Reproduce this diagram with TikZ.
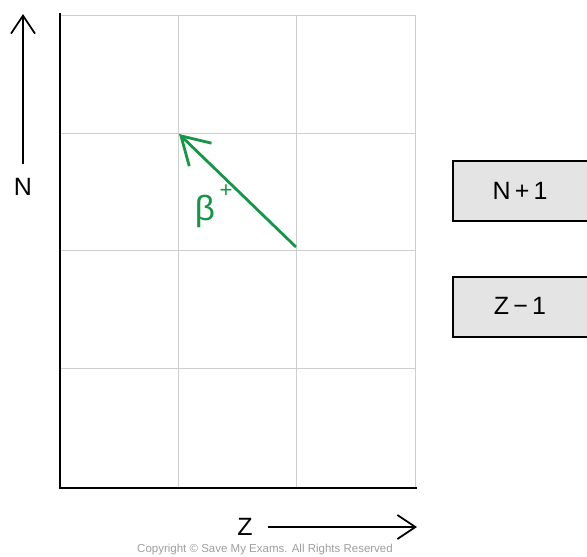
\documentclass[tikz,border=0pt]{standalone}
\usepackage{fontspec}
\setmainfont{Liberation Sans}
\usetikzlibrary{arrows.meta}
\definecolor{grn}{RGB}{20,150,70}
\definecolor{boxfill}{RGB}{228,228,228}
\definecolor{gridc}{RGB}{205,205,205}
\tikzset{
  gridline/.style={draw=gridc, line width=1pt},
  axisline/.style={draw=black, line width=2.8pt},
  dirarrow/.style={draw=black, line width=1.8pt, -{Straight Barb[length=18pt,width=24pt,line width=1.8pt]}},
  infobox/.style={draw=black, line width=1.5pt, fill=boxfill, minimum width=150pt, minimum height=60pt, anchor=north west, inner sep=0pt},
  lbl/.style={font=\fontsize{25}{25}\selectfont, inner sep=0pt}
}
\begin{document}
\begin{tikzpicture}[x=1pt,y=-1pt]
\useasboundingbox (0,0) rectangle (587,557);
\begin{scope}
\clip (0,0) rectangle (587,557);
% grid
\foreach \x in {178,296,415} \draw[gridline] (\x,15) -- (\x,488);
\foreach \y in {15,133,250,368} \draw[gridline] (60,\y) -- (415,\y);
% axes
\coordinate (o) at (60,488);
\coordinate (yt) at (60,14);
\coordinate (xr) at (416,488);
\draw[axisline, line cap=rect] (yt) -- (o) -- (xr);
% green beta+ arrow
\coordinate (bs) at (296,247);
\coordinate (be) at (179,134);
\draw[draw=grn, line width=2.8pt, -{Straight Barb[length=27pt,width=32pt,line width=2.8pt]}] (bs) -- (be);
\node[text=grn, font=\fontsize{35}{35}\selectfont, inner sep=0pt] (beta) at (205,211) {β};
\node[text=grn, font=\fontsize{22}{22}\selectfont, inner sep=0pt] (plus) at (226,191) {+};
% N axis label
\coordinate (ns) at (23,164);
\coordinate (ne) at (23,14);
\draw[dirarrow] (ns) -- (ne);
\node[lbl] (nlab) at (23,187) {N};
% Z axis label
\node[lbl] (zlab) at (245,527) {Z};
\coordinate (zs) at (268,527);
\coordinate (ze) at (417,527);
\draw[dirarrow] (zs) -- (ze);
% boxes
\node[infobox] (b1) at (452,160) {};
\node[lbl] (t1) at (520,191) {N\,+\,1};
\node[infobox] (b2) at (452,276) {};
\node[lbl] (t2) at (520,306) {Z\,−\,1};
% copyright
\node[text=black!38, font=\fontsize{11.5}{11.5}\selectfont, inner sep=0pt] (copy) at (265,550) {Copyright © Save My Exams. All Rights Reserved};
\end{scope}
\end{tikzpicture}
\end{document}
